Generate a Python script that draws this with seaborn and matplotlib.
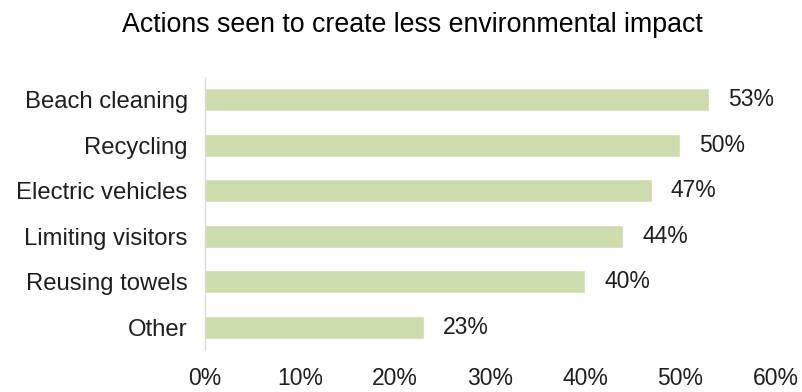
import numpy as np
import pandas as pd
import seaborn as sns
import matplotlib.pyplot as plt
from matplotlib.ticker import FixedLocator

actions = ["Beach cleaning", "Recycling", "Electric vehicles",
           "Limiting visitors", "Reusing towels", "Other"]
shares = [53, 50, 47, 44, 40, 23]
x_ticks = [0, 10, 20, 30, 40, 50, 60]

df = pd.DataFrame({"action": actions, "share": shares})

sns.set_style("white")
plt.rcParams["font.family"] = ["Liberation Sans", "DejaVu Sans"]

fig = plt.figure(figsize=(8.03, 3.92), dpi=100)
ax = fig.add_axes([0.2553, 0.1071, 0.7105, 0.6965])

sns.barplot(data=df, x="share", y="action", color="#cddcad", width=0.5,
            saturation=1, ax=ax)

for i, v in enumerate(shares):
    ax.text(v + 2.0, i, f"{v}%", va="center", ha="left", fontsize=16.5,
            color="#1e1e1e")

ax.set_xlim(0, 60)
ax.set_ylim(len(actions) - 0.5, -0.5)
ax.set_xticks(x_ticks)
ax.set_xticklabels([f"{t}%" for t in x_ticks], fontsize=16.5, color="#1e1e1e")
ax.tick_params(axis="x", length=0, pad=12)
ax.tick_params(axis="y", which="major", length=0, pad=12.5, labelsize=17.2,
               labelcolor="#1e1e1e")
ax.yaxis.set_minor_locator(FixedLocator(np.arange(-0.5, len(actions), 1.0)))
ax.tick_params(axis="y", which="minor", length=6, width=1, color="#d9d9d9")
ax.set_xlabel("")
ax.set_ylabel("")

for s in ["top", "right", "bottom"]:
    ax.spines[s].set_visible(False)
ax.spines["left"].set_color("#d9d9d9")
ax.spines["left"].set_linewidth(1)

fig.text(0.514, 0.918, "Actions seen to create less environmental impact",
         ha="center", va="baseline", fontsize=19.3, color="black")

fig.savefig("out.png", dpi=100)
